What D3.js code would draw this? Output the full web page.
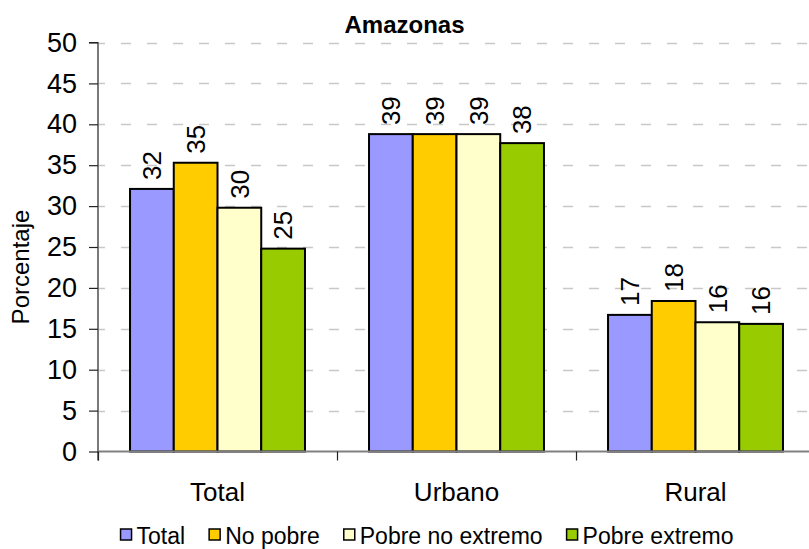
<!DOCTYPE html>
<html>
<head>
<meta charset="utf-8">
<script src="https://cdn.jsdelivr.net/npm/d3@7/dist/d3.min.js"></script>
<style>
  html, body { margin: 0; padding: 0; background: #fff; }
  svg { display: block; font-family: "Liberation Sans", Arial, sans-serif; }
</style>
</head>
<body>
<svg id="chart" width="809" height="549"></svg>
<script>
// ---- data ----
const categories = ["Total", "Urbano", "Rural"];
const seriesNames = ["Total", "No pobre", "Pobre no extremo", "Pobre extremo"];
const totalValues = [32.1, 38.8, 16.7];
const noPobreValues = [35.3, 38.8, 18.4];
const pobreNoExtremoValues = [29.8, 38.8, 15.8];
const pobreExtremoValues = [24.8, 37.7, 15.6];
const seriesColors = ["#9999FF", "#FFCC00", "#FFFFCC", "#99CC00"];
const yTicks = [0, 5, 10, 15, 20, 25, 30, 35, 40, 45, 50];
const titleText = "Amazonas";
const yAxisTitle = "Porcentaje";

const seriesValues = [totalValues, noPobreValues, pobreNoExtremoValues, pobreExtremoValues];

// ---- layout ----
const W = 809, H = 549;
const plot = { left: 98, right: 815, top: 42.5, bottom: 451.5 };

const svg = d3.select("#chart");

const x = d3.scaleBand().domain(categories).range([plot.left, plot.right]).paddingInner(0).paddingOuter(0);
const groupPad = x.bandwidth() * 0.134;
const xs = d3.scaleBand().domain(seriesNames).range([groupPad, x.bandwidth() - groupPad]).padding(0);
const y = d3.scaleLinear().domain([0, 50]).range([plot.bottom, plot.top]);

// gridlines
const grid = svg.append("g");
grid.selectAll("line").data(yTicks.filter(t => t > 0)).join("line")
  .attr("x1", plot.left + 1).attr("x2", W)
  .attr("y1", d => Math.round(y(d)) + 0.5).attr("y2", d => Math.round(y(d)) + 0.5)
  .attr("stroke", "#c8c8c8").attr("stroke-width", 1.5)
  .attr("stroke-dasharray", "10,16").attr("stroke-dashoffset", -22);

// bars
const data = [];
categories.forEach((c, ci) => {
  seriesNames.forEach((s, si) => {
    data.push({ c, s, si, v: seriesValues[si][ci] });
  });
});

const bars = svg.append("g");
bars.selectAll("rect").data(data).join("rect")
  .attr("x", d => x(d.c) + xs(d.s))
  .attr("y", d => y(d.v))
  .attr("width", xs.bandwidth())
  .attr("height", d => y(0) - y(d.v))
  .attr("fill", d => seriesColors[d.si])
  .attr("stroke", "#000").attr("stroke-width", 2);

// value labels
bars.selectAll("text").data(data).join("text")
  .attr("transform", d => `translate(${x(d.c) + xs(d.s) + xs.bandwidth() / 2},${y(d.v) - 9}) rotate(-90)`)
  .attr("dy", "0.36em")
  .attr("text-anchor", "start")
  .attr("font-size", 26)
  .attr("fill", "#000")
  .text(d => Math.round(d.v));

// y axis
const yAxis = d3.axisLeft(y).tickValues(yTicks).tickSize(9).tickPadding(12).tickFormat(d3.format("d"));
const yg = svg.append("g").attr("transform", `translate(${plot.left},0)`).call(yAxis);
yg.select(".domain").attr("stroke", "#222").attr("stroke-width", 1.2).attr("d", `M-9,${plot.top}H0V${plot.bottom + 9}`);
yg.selectAll(".tick line").attr("stroke", "#222").attr("stroke-width", 1.2);
yg.selectAll(".tick text").attr("font-size", 27).attr("font-family", "Liberation Sans, Arial, sans-serif").attr("fill", "#000");

// x axis line
svg.append("line")
  .attr("x1", plot.left).attr("x2", W)
  .attr("y1", plot.bottom).attr("y2", plot.bottom)
  .attr("stroke", "#808080").attr("stroke-width", 2);

// x category boundary ticks
const bounds = categories.map(c => x(c)).concat([plot.right]);
svg.append("g").selectAll("line").data(bounds).join("line")
  .attr("x1", d => Math.round(d) + 0.5).attr("x2", d => Math.round(d) + 0.5)
  .attr("y1", plot.bottom).attr("y2", plot.bottom + 9)
  .attr("stroke", "#222").attr("stroke-width", 1.2);

// x labels
svg.append("g").selectAll("text").data(categories).join("text")
  .attr("x", d => x(d) + x.bandwidth() / 2)
  .attr("y", 501)
  .attr("text-anchor", "middle")
  .attr("font-size", 26)
  .attr("fill", "#000")
  .text(d => d);

// title
svg.append("text")
  .attr("x", W / 2).attr("y", 33)
  .attr("text-anchor", "middle")
  .attr("font-size", 24).attr("font-weight", "bold")
  .text(titleText);

// y axis title
svg.append("text")
  .attr("transform", `translate(29,267) rotate(-90)`)
  .attr("text-anchor", "middle")
  .attr("font-size", 24)
  .text(yAxisTitle);

// legend
const legend = svg.append("g");
const items = legend.selectAll("g").data(seriesNames).join("g");
items.append("rect")
  .attr("width", 11).attr("height", 11)
  .attr("y", 529)
  .attr("fill", (d, i) => seriesColors[i])
  .attr("stroke", "#000").attr("stroke-width", 1.5);
items.append("text")
  .attr("x", 16).attr("y", 544)
  .attr("font-size", 23)
  .text(d => d);
let widths = [];
items.each(function () { widths.push(d3.select(this).select("text").node().getComputedTextLength() + 16); });
const gap = 24;
const total = d3.sum(widths) + gap * (widths.length - 1);
let cx = 427 - total / 2;
items.attr("transform", (d, i) => { const t = `translate(${cx},0)`; cx += widths[i] + gap; return t; });
</script>
</body>
</html>
